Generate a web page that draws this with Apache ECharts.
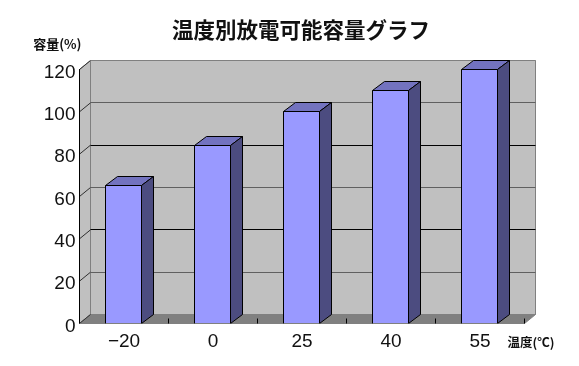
<!DOCTYPE html>
<html>
<head>
<meta charset="utf-8">
<style>html,body{margin:0;padding:0;background:#fff}#c{width:579px;height:366px}</style>
<script src="https://cdn.jsdelivr.net/npm/echarts@6/dist/echarts.min.js"></script>
</head>
<body>
<div id="c"></div>
<script>
const titleText = '温度別放電可能容量グラフ';
const yAxisName = '容量(%)';
const xAxisName = '温度(℃)';
const categories = ['−20', '0', '25', '40', '55'];
const capacity = [65, 84, 100, 110, 120];
const yTicks = [0, 20, 40, 60, 80, 100, 120];
const gridColors = ['#808080', '#606060', '#000000', '#606060', '#000000', '#606060', '#808080'];

const wallDx = 11, wallDy = 9;
const barDx = 12, barDy = 9.5;
const jpFont = '"Noto Sans CJK JP", sans-serif';
const numFont = '"Liberation Sans", Arial, sans-serif';
const crisp = v => Math.round(v - 0.5) + 0.5;

function renderWalls(params, api) {
  const c = params.coordSys;
  const l = c.x, r = c.x + c.width, t = c.y, b = c.y + c.height;
  return {
    type: 'group',
    children: [
      { type: 'polygon', shape: { points: [[l + wallDx, t - wallDy], [r + wallDx, t - wallDy], [r + wallDx, b - wallDy], [l + wallDx, b - wallDy]] },
        style: { fill: '#c0c0c0', stroke: '#808080', lineWidth: 1 } },
      { type: 'polygon', shape: { points: [[l, t], [l + wallDx, t - wallDy], [l + wallDx, b - wallDy], [l, b]] },
        style: { fill: '#c0c0c0', stroke: '#808080', lineWidth: 1 } },
      { type: 'polygon', shape: { points: [[l, b], [l + wallDx, b - wallDy], [r + wallDx, b - wallDy], [r, b]] },
        style: { fill: '#808080', stroke: '#808080', lineWidth: 1 } }
    ]
  };
}

function renderGridLine(params, api) {
  const c = params.coordSys;
  const v = api.value(1);
  const y = api.coord([0, v])[1];
  const l = c.x, r = c.x + c.width;
  const children = [{
    type: 'line',
    shape: { x1: l, y1: y, x2: l + wallDx, y2: y - wallDy },
    style: { stroke: '#303030', lineWidth: 1 }
  }];
  if (v !== 0) {
    children.push({
      type: 'line',
      shape: { x1: l + wallDx, y1: crisp(y - wallDy), x2: r + wallDx, y2: crisp(y - wallDy) },
      style: { stroke: gridColors[params.dataIndex], lineWidth: 1 }
    });
  }
  return { type: 'group', children };
}

function renderBar(params, api) {
  const cat = api.value(0), val = api.value(1);
  const top = api.coord([cat, val]);
  const base = api.coord([cat, 0]);
  const w = api.size([1, 0])[0] * 0.405;
  const cx = top[0] - 0.5;
  const x1 = crisp(cx - w / 2), x2 = crisp(cx + w / 2);
  const yT = crisp(top[1]), yB = crisp(base[1]);
  const yBack = crisp(yT - barDy), yBackB = crisp(yB - barDy);
  const stroke = { stroke: '#000000', lineWidth: 1 };
  return {
    type: 'group',
    children: [
      { type: 'polygon', shape: { points: [[x1, yT], [x1 + barDx, yBack], [x2 + barDx, yBack], [x2, yT]] },
        style: Object.assign({ fill: '#7373bf' }, stroke) },
      { type: 'polygon', shape: { points: [[x2, yT], [x2 + barDx, yBack], [x2 + barDx, yBackB], [x2, yB]] },
        style: Object.assign({ fill: '#4c4c80' }, stroke) },
      { type: 'rect', shape: { x: x1, y: yT, width: x2 - x1, height: yB - yT },
        style: { fill: '#9999ff', stroke: '#000000', lineWidth: 1 } },
      { type: 'line', shape: { x1: x1, y1: yB, x2: x2, y2: yB }, style: { stroke: '#808080', lineWidth: 1 } }
    ]
  };
}

const chart = echarts.init(document.getElementById('c'), null, { renderer: 'canvas' });
chart.setOption({
  animation: false,
  backgroundColor: '#ffffff',
  title: {
    text: titleText, left: 167, top: 14,
    textStyle: { fontFamily: jpFont, fontSize: 21.5, fontWeight: 'bold', color: '#111111' }
  },
  grid: { left: 79.5, right: 54.5, top: 69.5, bottom: 42.5, containLabel: false, outerBoundsMode: 'none' },
  xAxis: {
    type: 'category',
    data: categories,
    name: xAxisName,
    nameLocation: 'end',
    nameGap: -17,
    nameTextStyle: { fontFamily: jpFont, fontSize: 12.5, fontWeight: 'bold', color: '#111111', padding: [12, 0, 0, 0], verticalAlign: 'top' },
    axisLine: { show: true, lineStyle: { color: '#808080', width: 1 } },
    axisTick: { show: true, inside: true, length: 5, lineStyle: { color: '#000000', width: 1 } },
    axisLabel: { fontFamily: numFont, fontSize: 19, color: '#111111', margin: 9 },
    splitLine: { show: false },
    z: 3
  },
  yAxis: {
    type: 'value',
    min: 0, max: 120, interval: 20,
    name: yAxisName,
    nameLocation: 'end',
    nameGap: 19,
    nameTextStyle: { fontFamily: jpFont, fontSize: 13, fontWeight: 'bold', color: '#111111', align: 'right', padding: [0, -2, 0, 0] },
    axisLine: { show: true, onZero: false, lineStyle: { color: '#000000', width: 1 } },
    axisTick: { show: false },
    axisLabel: { fontFamily: numFont, fontSize: 19, color: '#111111', margin: 4, verticalAlign: 'top', lineHeight: 6 },
    splitLine: { show: false },
    z: 3
  },
  series: [
    { type: 'custom', name: 'walls', z: 1, silent: true, clip: false, renderItem: renderWalls, data: [[0, 0]] },
    { type: 'custom', name: 'gridlines', z: 2, silent: true, clip: false, renderItem: renderGridLine,
      data: yTicks.map(v => [0, v]) },
    { type: 'custom', name: '容量', z: 5, clip: false, renderItem: renderBar,
      encode: { x: 0, y: 1 },
      data: capacity.map((v, i) => [i, v]) }
  ]
});
</script>
</body>
</html>
